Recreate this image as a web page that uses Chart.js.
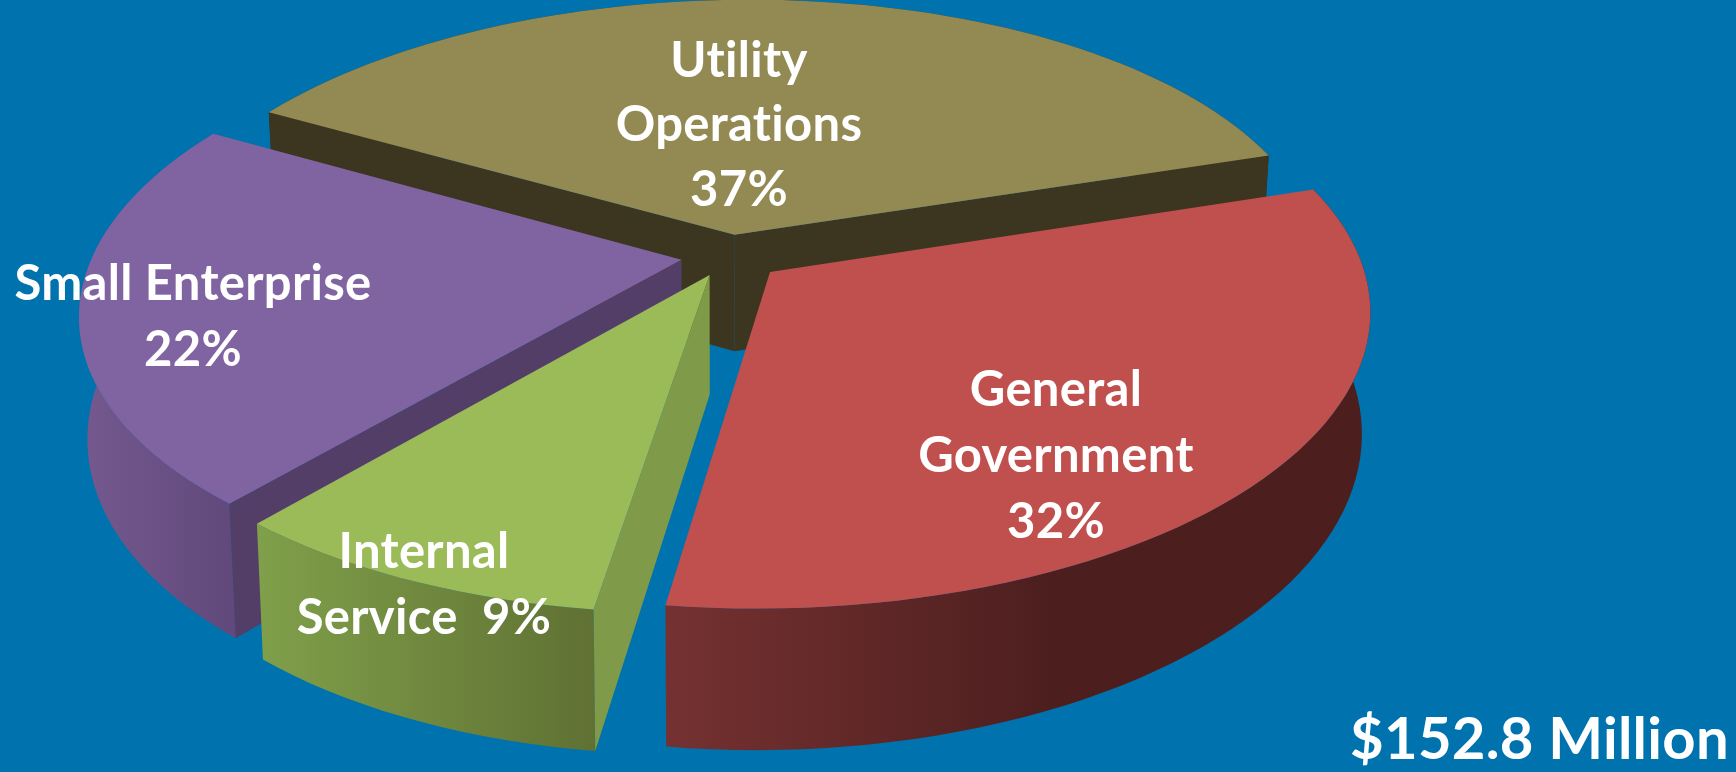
<!DOCTYPE html>
<html>
<head>
<meta charset="utf-8">
<title>$152.8 Million</title>
<script src="https://cdn.jsdelivr.net/npm/chart.js@4/dist/chart.umd.min.js"></script>
<style>
  html, body { margin: 0; padding: 0; background: #0072ae; overflow: hidden; }
  #wrap { position: relative; width: 1736px; height: 772px; }
</style>
</head>
<body>
<div id="wrap"><canvas id="grafico" width="1736" height="772"></canvas></div>
<script>
// dados
const categorias = ["Utility Operations", "General Government", "Internal Service", "Small Enterprise"];
const valores = [37, 32, 9, 22];
const total = "$152.8 Million";

// estilo das fatias
const coresTopo = ["#938953", "#c0504d", "#9bbb59", "#8064a2"];
const coresCorte = ["#3c3520", "#4c1e1e", "#7f9a48", "#523e66"];
const coresParede = [["#3c3520", "#3c3520"], ["#753131", "#4c1e1e"], ["#80a04a", "#5f7033"], ["#75598f", "#60487a"]];
const faixasParede = [[269, 1270], [669, 1060], [254, 600], [77, 240]];
const explosao = [28, 34, 28, 30];
const ordemDesenho = [0, 3, 1, 2];

// rotulos, linha por linha
const rotulos = [
  { linhas: ["Utility", "Operations", "37%"], x: 739, y: [61, 125, 190] },
  { linhas: ["General", "Government", "32%"], x: 1056, y: [390, 456, 522] },
  { linhas: ["Internal", "Service  9%"], x: 424, y: [552, 618] },
  { linhas: ["Small Enterprise", "22%"], x: 193, y: [284, 350] }
];

// camera que leva o disco plano da Chart.js para a vista em perspectiva
const camera = { x0: 729, y0: 255.5, fx: 589, fy: 278, inclinacao: 0.157, shear: -18, altura: 118, fugaX: 720, converge: 0.013 };

function projetar(X, Y, fundo) {
  const w = 1 - camera.inclinacao * Y;
  const x = camera.x0 + (camera.fx * X + camera.shear * Y) / w;
  const y = camera.y0 + camera.fy * Y / w;
  if (!fundo) return [x, y];
  return [x + (camera.fugaX - x) * camera.converge, y + camera.altura / w];
}

// pontos da fatia em unidades do raio, a partir do proprio arco da Chart.js
function contornoFatia(arco) {
  const { startAngle, endAngle, outerRadius } = arco.getProps(["startAngle", "endAngle", "outerRadius"], true);
  const meio = (startAngle + endAngle) / 2;
  const d = (arco.options.offset || 0) / outerRadius;
  const cx = Math.cos(meio) * d;
  const cy = Math.sin(meio) * d;
  const passos = Math.max(8, Math.ceil((endAngle - startAngle) * 30));
  const borda = [];
  for (let i = 0; i <= passos; i++) {
    const a = startAngle + (endAngle - startAngle) * i / passos;
    borda.push([cx + Math.cos(a), cy + Math.sin(a)]);
  }
  return { vertice: [cx, cy], borda };
}

function preencher(ctx, pontos, cor) {
  ctx.beginPath();
  pontos.forEach((p, i) => (i ? ctx.lineTo(p[0], p[1]) : ctx.moveTo(p[0], p[1])));
  ctx.closePath();
  ctx.fillStyle = cor;
  ctx.fill();
}

function area(pontos) {
  let s = 0;
  pontos.forEach((p, i) => {
    const q = pontos[(i + 1) % pontos.length];
    s += p[0] * q[1] - q[0] * p[1];
  });
  return s / 2;
}

// parede de corte reta, so aparece se estiver virada para quem olha
function corte(ctx, a, b, cor) {
  const quad = [projetar(a[0], a[1]), projetar(b[0], b[1]), projetar(b[0], b[1], true), projetar(a[0], a[1], true)];
  if (area(quad) < 0) preencher(ctx, quad, cor);
}

const pizza3d = {
  id: "pizza3d",
  beforeDatasetsDraw(chart) {
    const ctx = chart.ctx;
    const arcos = chart.getDatasetMeta(0).data;
    ordemDesenho.forEach((i) => {
      const { vertice, borda } = contornoFatia(arcos[i]);
      const ultimo = borda[borda.length - 1];

      const grad = ctx.createLinearGradient(faixasParede[i][0], 0, faixasParede[i][1], 0);
      grad.addColorStop(0, coresParede[i][0]);
      grad.addColorStop(1, coresParede[i][1]);

      const cima = borda.map((p) => projetar(p[0], p[1]));
      const baixo = borda.map((p) => projetar(p[0], p[1], true)).reverse();
      preencher(ctx, cima.concat(baixo), grad);

      corte(ctx, ultimo, vertice, coresCorte[i]);
      corte(ctx, vertice, borda[0], coresCorte[i]);

      preencher(ctx, [projetar(vertice[0], vertice[1])].concat(cima), arcos[i].options.backgroundColor);
    });
    return false;
  },
  afterDraw(chart) {
    const ctx = chart.ctx;
    ctx.save();
    ctx.fillStyle = "#ffffff";
    ctx.textAlign = "center";
    ctx.textBaseline = "middle";
    ctx.letterSpacing = "0.3px";
    ctx.font = "bold 49px Lato";
    rotulos.forEach((r) => {
      r.linhas.forEach((linha, i) => ctx.fillText(linha, r.x, r.y[i]));
    });
    ctx.textAlign = "right";
    ctx.font = "bold 58px Lato";
    ctx.fillText(total, 1729, 740);
    ctx.restore();
  }
};

new Chart(document.getElementById("grafico"), {
  type: "pie",
  data: {
    labels: categorias,
    datasets: [{ data: valores, backgroundColor: coresTopo, borderWidth: 0, offset: explosao }]
  },
  options: {
    responsive: false,
    animation: false,
    rotation: -61,
    layout: { padding: 0 },
    plugins: { legend: { display: false }, tooltip: { enabled: false } }
  },
  plugins: [pizza3d]
});
</script>
</body>
</html>
